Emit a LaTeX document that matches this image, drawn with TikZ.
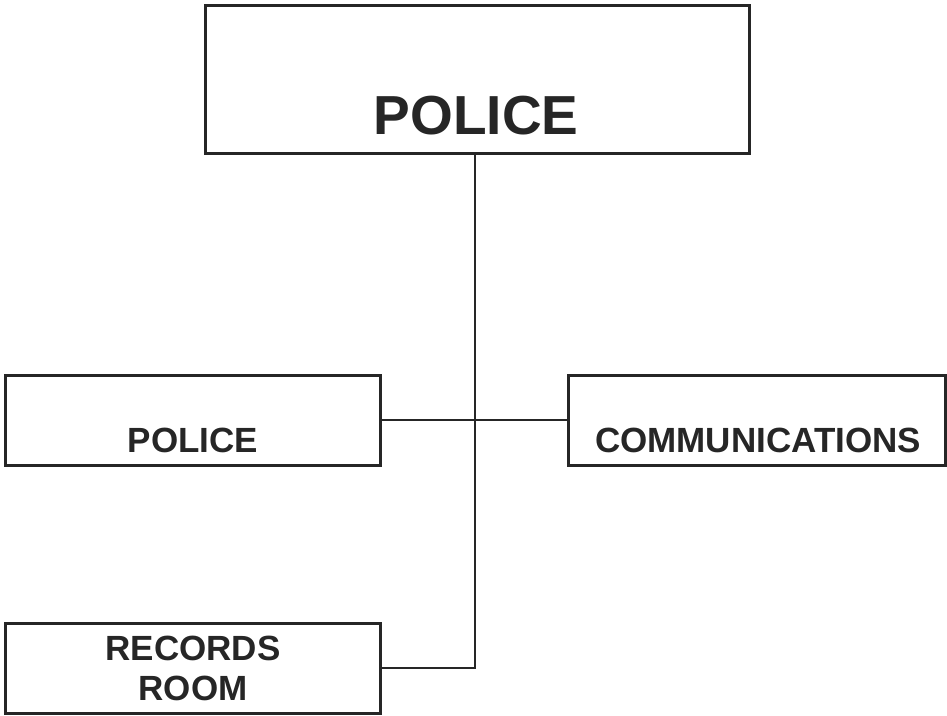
\documentclass[tikz,border=0pt]{standalone}
\usepackage{fontspec}
\setmainfont{Liberation Sans}
\begin{document}
\begin{tikzpicture}[x=1pt,y=-1pt,
  box/.style={draw=black!85, line width=3pt, minimum width=#1, inner sep=0pt},
  lbl/.style={font=\bfseries\fontsize{35}{40}\selectfont, text=black!85, inner sep=0pt, align=center},
  conn/.style={draw=black!85, line width=1.5pt}]
\useasboundingbox (0,0) rectangle (947,715);
% boxes
\node[box=544pt, minimum height=148pt] (top) at (477,79) {};
\node[box=375pt, minimum height=90pt] (pol) at (192.5,420) {};
\node[box=377pt, minimum height=90pt] (com) at (756.5,420) {};
\node[box=375pt, minimum height=90pt] (rec) at (192.5,668) {};
% texts
\node[lbl, font=\bfseries\fontsize{55}{60}\selectfont] (toptxt) at (476,116) {POLICE};
\node[lbl] (poltxt) at (193,440) {POLICE};
\node[lbl] (comtxt) at (758,440) {COMMUNICATIONS};
\node[lbl] (rectxt) at (193,668) {RECORDS\\ROOM};
% connectors
\coordinate (j) at (475,668);
\draw[conn] (top.south -| j) -- (j) -- (rec.east);
\draw[conn] (pol.east) -- (com.west);
\end{tikzpicture}
\end{document}
